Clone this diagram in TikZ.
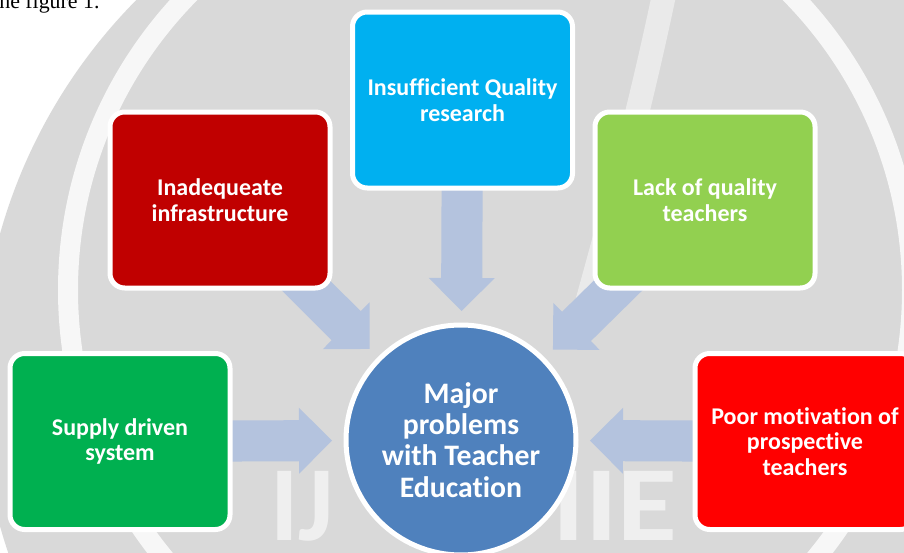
\documentclass[tikz,border=0pt]{standalone}
\usepackage{fontspec}
\setmainfont{Carlito}[Ligatures=NoCommon]
\newfontfamily\captionserif{Liberation Serif}
\usetikzlibrary{calc}
\pgfdeclarelayer{watermark}
\pgfdeclarelayer{arrowlayer}
\pgfsetlayers{watermark,arrowlayer,main}

\definecolor{wmgray}{HTML}{D9D9D9}
\definecolor{arrowblue}{HTML}{B4C3DE}
\definecolor{hubblue}{HTML}{4F81BD}
\definecolor{darkred}{HTML}{C00000}
\definecolor{skyblue}{HTML}{00B0F0}
\definecolor{limegreen}{HTML}{92D050}
\definecolor{leafgreen}{HTML}{00B050}
\definecolor{brightred}{HTML}{FF0000}

% block arrow with a straight shaft and a triangular head, from #1 to the tip #2
\newcommand{\blockarrow}[2]{%
  \coordinate (ba-m) at ($(#2)!24.75pt!(#1)$);
  \fill[arrowblue]
    ($(#1)!15.4pt!90:(#2)$) -- ($(ba-m)!15.4pt!-90:(#1)$)
    -- ($(ba-m)!24.75pt!-90:(#1)$) -- (#2)
    -- ($(ba-m)!24.75pt!90:(#1)$) -- ($(ba-m)!15.4pt!90:(#1)$)
    -- ($(#1)!15.4pt!-90:(#2)$) -- cycle;}

\tikzset{
  problembox/.style={rounded corners=11pt, draw=white, line width=3.75pt,
    minimum width=165pt, minimum height=132pt, inner sep=0pt,
    text=white, align=center, font=\bfseries\fontsize{18}{19.3}\selectfont},
  hubcircle/.style={circle, fill=hubblue, draw=white, line width=3.75pt,
    minimum size=172.5pt, inner sep=0pt, text=white, align=center,
    font=\bfseries\fontsize{22.3}{23.5}\selectfont},
  wmletters/.style={text=white, opacity=0.6, inner sep=0pt,
    font=\bfseries\fontsize{80}{80}\selectfont}
}

\begin{document}
\begin{tikzpicture}[x=0.75pt, y=-0.75pt]
\useasboundingbox (0,0) rectangle (904,553);

% faint logo in the background
\begin{pgfonlayer}{watermark}
  \clip (0,0) rectangle (904,553);
  \fill[white] (0,0) rectangle (904,553);
  \fill[wmgray] (520,380) circle[radius=540];
  \draw[white, opacity=0.8, line width=15pt] (490,290) circle[radius=422];
  \draw[white, opacity=0.45, line width=18pt]
    (665,-10) .. controls (640,110) and (610,220) .. (585,310);
  \node[wmletters, anchor=base west] (wm-left) at (270,540) {IJ};
  \node[wmletters, anchor=base west, xscale=1.15] (wm-right) at (552,540) {IIE};
\end{pgfonlayer}

% text line above the figure
\node[anchor=base west, inner sep=0pt, font=\captionserif\fontsize{16.4}{18}\selectfont]
  (caption) at (-7,8) {the figure 1.};

% problem boxes and the central circle
\node[problembox, fill=skyblue]    (ins)  at (462.5,100) {Insufficient Quality\\research};
\node[problembox, fill=darkred]    (inad) at (220,200)   {Inadequeate\\infrastructure};
\node[problembox, fill=limegreen]  (lack) at (705,200)   {Lack of quality\\teachers};
\node[problembox, fill=leafgreen]  (sup)  at (120,441.5) {Supply driven\\system};
\node[problembox, fill=brightred]  (poor) at (805,441.5) {Poor motivation of\\prospective\\teachers};
\node[hubcircle] (hub) at (461,440) {Major\\problems\\with Teacher\\Education};

% arrows pointing at the circle, drawn behind the shapes
\begin{pgfonlayer}{arrowlayer}
  \coordinate (tip-ins)  at ($(hub)!96.75pt!(ins)$);
  \coordinate (tip-inad) at ($(hub)!96.75pt!(inad)$);
  \coordinate (tip-lack) at ($(hub)!96.75pt!(lack)$);
  \coordinate (tip-sup)  at ($(hub)!96.75pt!(sup)$);
  \coordinate (tip-poor) at ($(hub)!96.75pt!(poor)$);
  \blockarrow{ins}{tip-ins}
  \blockarrow{inad}{tip-inad}
  \blockarrow{lack}{tip-lack}
  \blockarrow{sup}{tip-sup}
  \blockarrow{poor}{tip-poor}
\end{pgfonlayer}
\end{tikzpicture}
\end{document}
